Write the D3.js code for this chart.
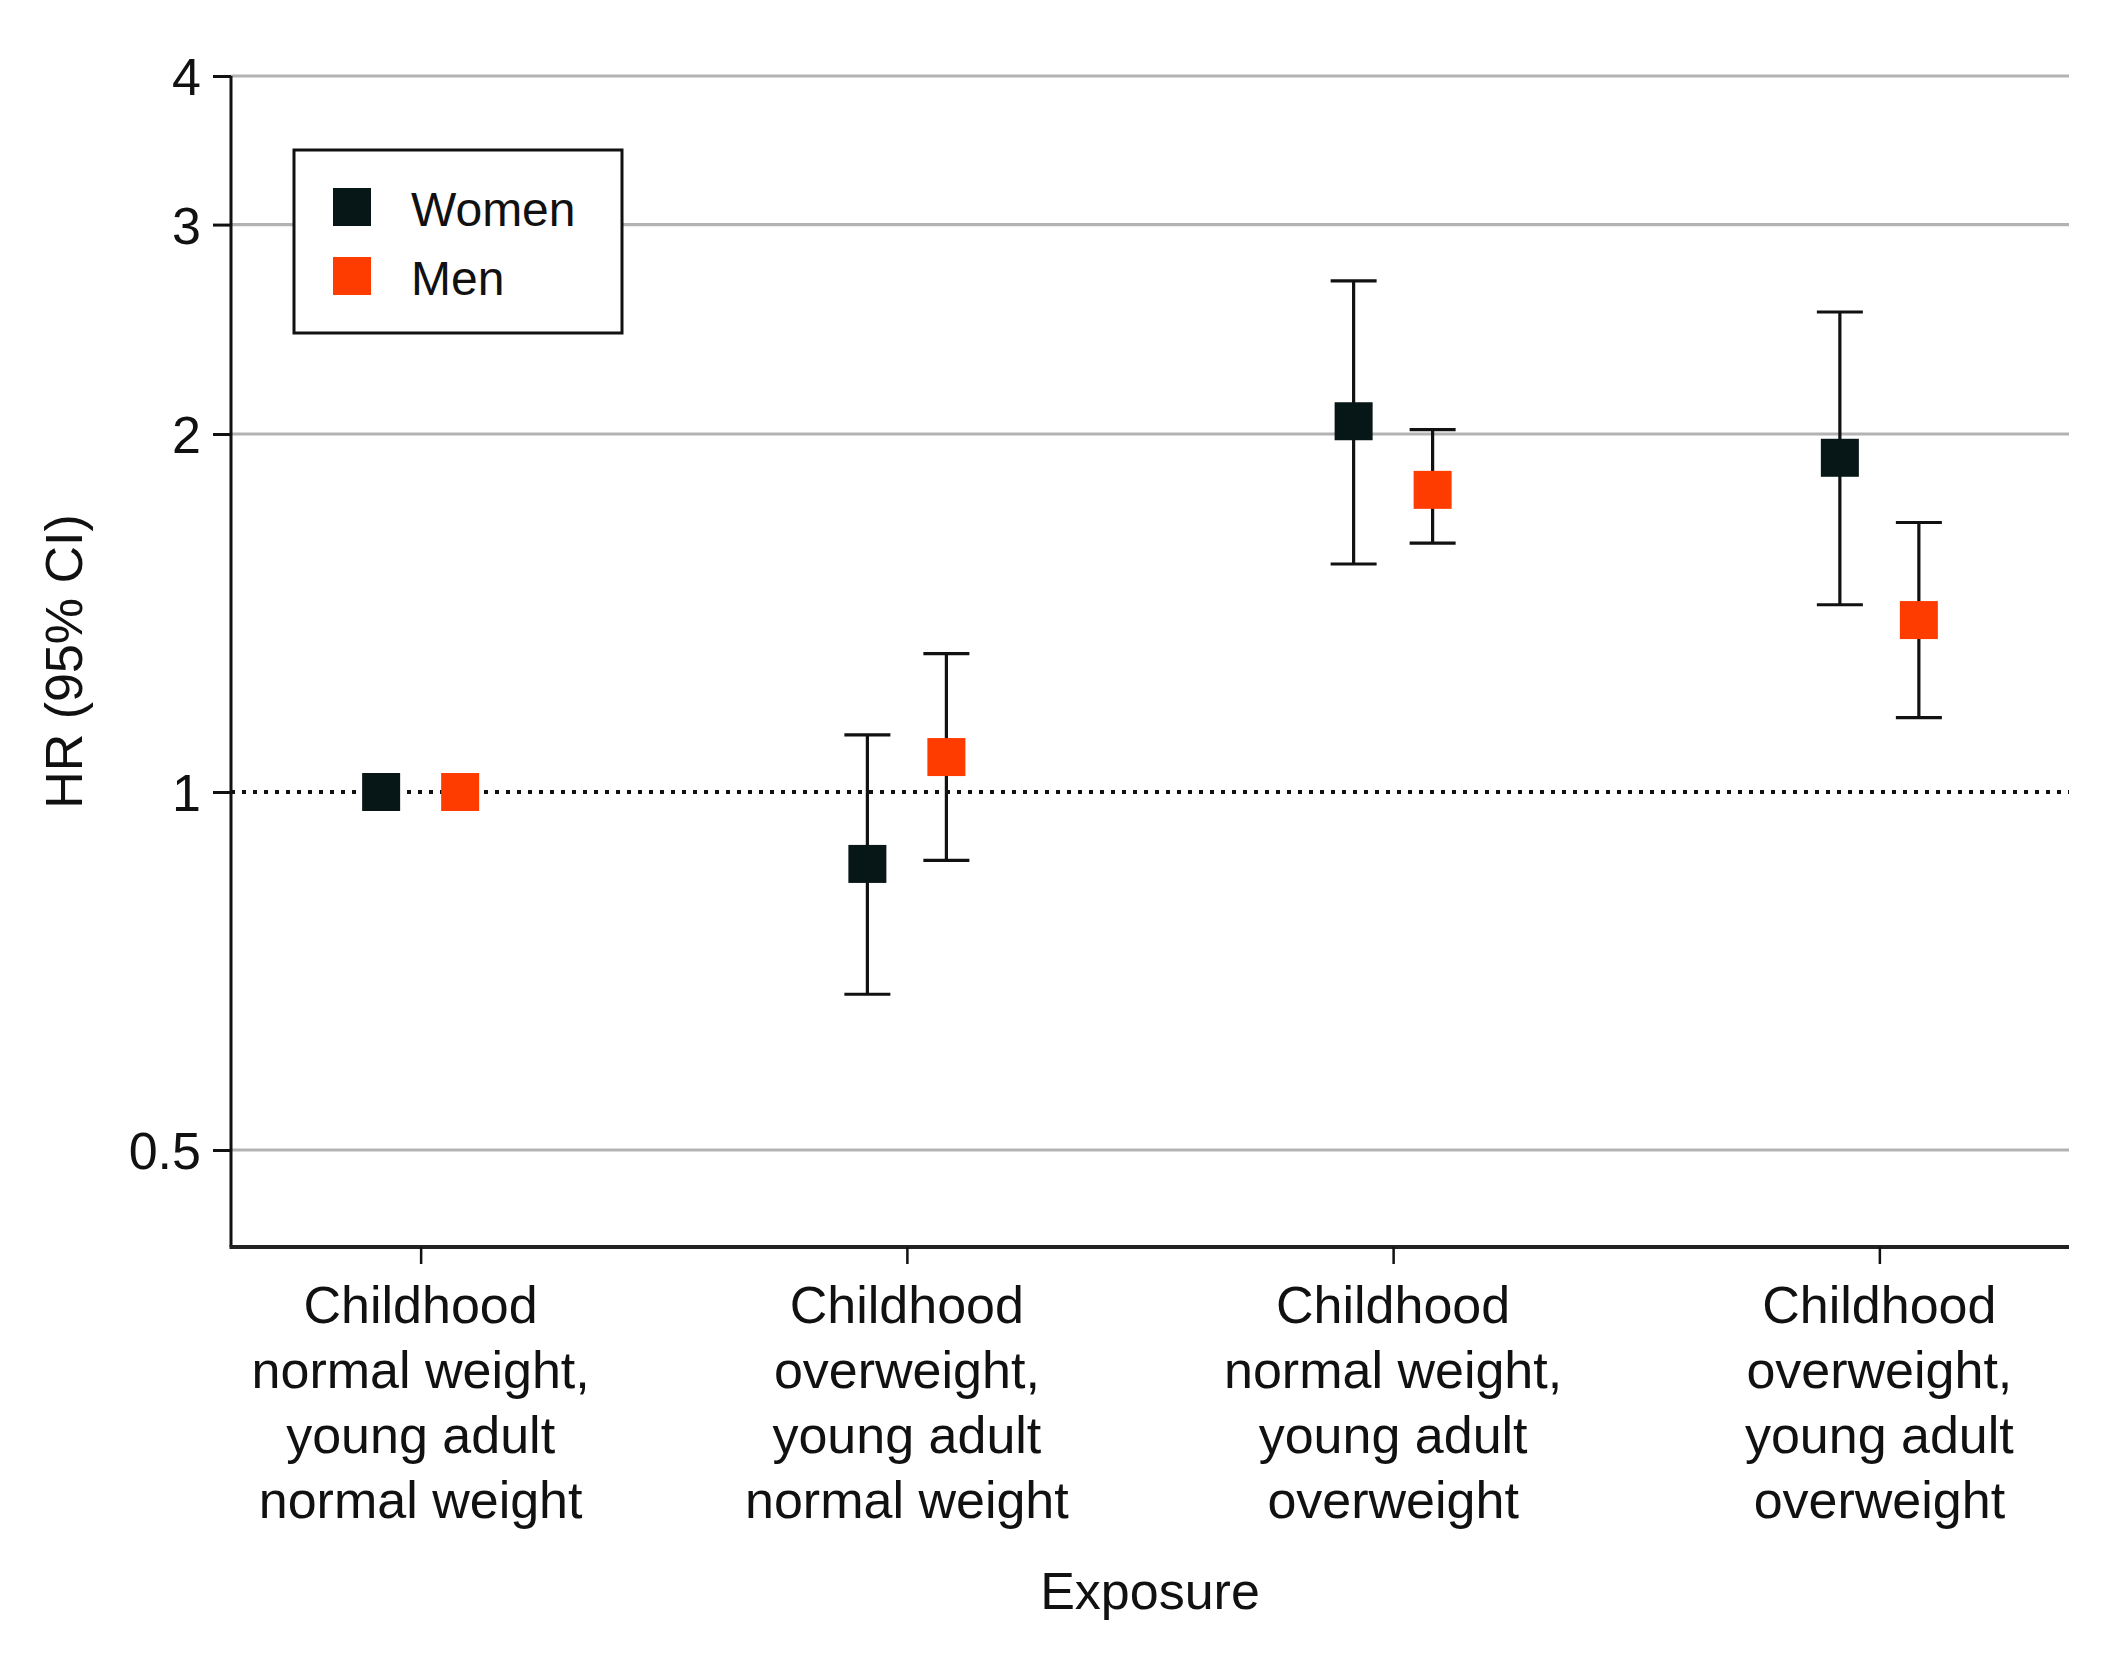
<!DOCTYPE html>
<html>
<head>
<meta charset="utf-8">
<script src="https://cdn.jsdelivr.net/npm/d3@7"></script>
<style>
  body { margin: 0; background: #fff; }
  text { font-family: "Liberation Sans", Arial, sans-serif; fill: #111; }
</style>
</head>
<body>
<div id="chart"></div>
<script>
// exposure groups (label lines)
const categories = [
  ["Childhood", "normal weight,", "young adult", "normal weight"],
  ["Childhood", "overweight,", "young adult", "normal weight"],
  ["Childhood", "normal weight,", "young adult", "overweight"],
  ["Childhood", "overweight,", "young adult", "overweight"]
];
const series = ["Women", "Men"];
const colors = ["#071717", "#ff3c00"];

// hazard ratios with 95% CI (reference group has no CI)
const womenHR = [1, 0.87, 2.05, 1.91];
const womenLo = [null, 0.676, 1.555, 1.437];
const womenHi = [null, 1.117, 2.69, 2.533];
const menHR = [1, 1.07, 1.795, 1.395];
const menLo = [null, 0.876, 1.619, 1.155];
const menHi = [null, 1.307, 2.017, 1.685];

const yTicks = [0.5, 1, 2, 3, 4];
const gridTicks = [0.5, 2, 3, 4];

const width = 2101;
const height = 1665;
const plot = { left: 231, right: 2069, top: 76, bottom: 1247 };

const svg = d3.select('#chart')
  .append('svg')
  .attr('width', width)
  .attr('height', height)
  .attr('viewBox', [0, 0, width, height]);

const x = d3.scalePoint()
  .domain(d3.range(categories.length))
  .range([plot.left, plot.right])
  .padding(0.39);

const offset = d3.scalePoint()
  .domain(series)
  .range([-39.5, 39.5]);

const y = d3.scaleLog()
  .domain([0.5, 4])
  .range([1150, 76]);

// gridlines
svg.append('g')
  .selectAll('line')
  .data(gridTicks)
  .join('line')
    .attr('x1', plot.left)
    .attr('x2', plot.right)
    .attr('y1', d => y(d))
    .attr('y2', d => y(d))
    .attr('stroke', '#b3b3b3')
    .attr('stroke-width', 3.2);

// reference line at HR = 1
svg.append('line')
  .attr('x1', plot.left)
  .attr('x2', plot.right)
  .attr('y1', y(1))
  .attr('y2', y(1))
  .attr('stroke', '#111')
  .attr('stroke-width', 4)
  .attr('stroke-dasharray', '4,7');

// frame lines
svg.append('line')
  .attr('x1', plot.left).attr('x2', plot.left)
  .attr('y1', plot.top).attr('y2', plot.bottom)
  .attr('stroke', '#111').attr('stroke-width', 3);
svg.append('line')
  .attr('x1', plot.left - 1.5).attr('x2', plot.right)
  .attr('y1', plot.bottom).attr('y2', plot.bottom)
  .attr('stroke', '#222').attr('stroke-width', 4);

// y axis
function yAxis(g) {
  g.attr('transform', `translate(${plot.left},0)`)
    .call(d3.axisLeft(y).tickValues(yTicks).tickFormat(d3.format('~g')).tickSize(18).tickPadding(12))
    .call(g => g.select('.domain').remove())
    .call(g => g.selectAll('.tick line').attr('stroke', '#111').attr('stroke-width', 3))
    .call(g => g.selectAll('.tick text').attr('font-size', '52px').attr('font-family', null).attr('fill', '#111').attr('dy', '0.36em'));
}
svg.append('g').call(yAxis);

// x axis
function xAxis(g) {
  g.attr('transform', `translate(0,${plot.bottom})`)
    .call(d3.axisBottom(x).tickSize(17).tickFormat(''))
    .call(g => g.select('.domain').remove())
    .call(g => g.selectAll('.tick line').attr('stroke', '#111').attr('stroke-width', 2.5));
}
svg.append('g').call(xAxis);

// category labels
const labels = svg.append('g')
  .selectAll('text')
  .data(categories)
  .join('text')
    .attr('text-anchor', 'middle')
    .attr('font-size', '52px')
    .attr('x', (d, i) => x(i))
    .attr('y', 1323);
labels.selectAll('tspan')
  .data((d, i) => d.map(s => ({ s, i })))
  .join('tspan')
    .attr('x', d => x(d.i))
    .attr('dy', (d, j) => j === 0 ? 0 : 65)
    .text(d => d.s);

// axis titles
svg.append('text')
  .attr('x', (plot.left + plot.right) / 2)
  .attr('y', 1609)
  .attr('text-anchor', 'middle')
  .attr('font-size', '52px')
  .text('Exposure');

svg.append('text')
  .attr('transform', `translate(82,${(plot.top + plot.bottom) / 2}) rotate(-90)`)
  .attr('text-anchor', 'middle')
  .attr('font-size', '52px')
  .text('HR (95% CI)');

// build point rows
const rows = [];
categories.forEach((c, i) => {
  rows.push({ i, s: 'Women', hr: womenHR[i], lo: womenLo[i], hi: womenHi[i] });
  rows.push({ i, s: 'Men', hr: menHR[i], lo: menLo[i], hi: menHi[i] });
});
const cx = d => x(d.i) + offset(d.s);
const color = d3.scaleOrdinal().domain(series).range(colors);
const capW = 23;
const withCI = rows.filter(d => d.lo != null);

const bars = svg.append('g')
  .attr('stroke', '#111')
  .attr('stroke-width', 3.2);
bars.selectAll('.stem')
  .data(withCI)
  .join('line')
    .attr('class', 'stem')
    .attr('x1', cx).attr('x2', cx)
    .attr('y1', d => y(d.lo)).attr('y2', d => y(d.hi));
bars.selectAll('.capHi')
  .data(withCI)
  .join('line')
    .attr('class', 'capHi')
    .attr('x1', d => cx(d) - capW).attr('x2', d => cx(d) + capW)
    .attr('y1', d => y(d.hi)).attr('y2', d => y(d.hi));
bars.selectAll('.capLo')
  .data(withCI)
  .join('line')
    .attr('class', 'capLo')
    .attr('x1', d => cx(d) - capW).attr('x2', d => cx(d) + capW)
    .attr('y1', d => y(d.lo)).attr('y2', d => y(d.lo));

const sq = 38;
svg.append('g')
  .selectAll('rect')
  .data(rows)
  .join('rect')
    .attr('x', d => cx(d) - sq / 2)
    .attr('y', d => y(d.hr) - sq / 2)
    .attr('width', sq)
    .attr('height', sq)
    .attr('fill', d => color(d.s));

// legend
const legend = svg.append('g');
legend.append('rect')
  .attr('x', 294).attr('y', 150)
  .attr('width', 328).attr('height', 183)
  .attr('fill', '#fff')
  .attr('stroke', '#111')
  .attr('stroke-width', 3);
const item = legend.selectAll('g')
  .data(series)
  .join('g')
    .attr('transform', (d, i) => `translate(333,${188 + i * 69})`);
item.append('rect')
  .attr('width', 38).attr('height', 38)
  .attr('fill', d => color(d));
item.append('text')
  .attr('x', 78).attr('y', 38)
  .attr('font-size', '48px')
  .text(d => d);
</script>
</body>
</html>
